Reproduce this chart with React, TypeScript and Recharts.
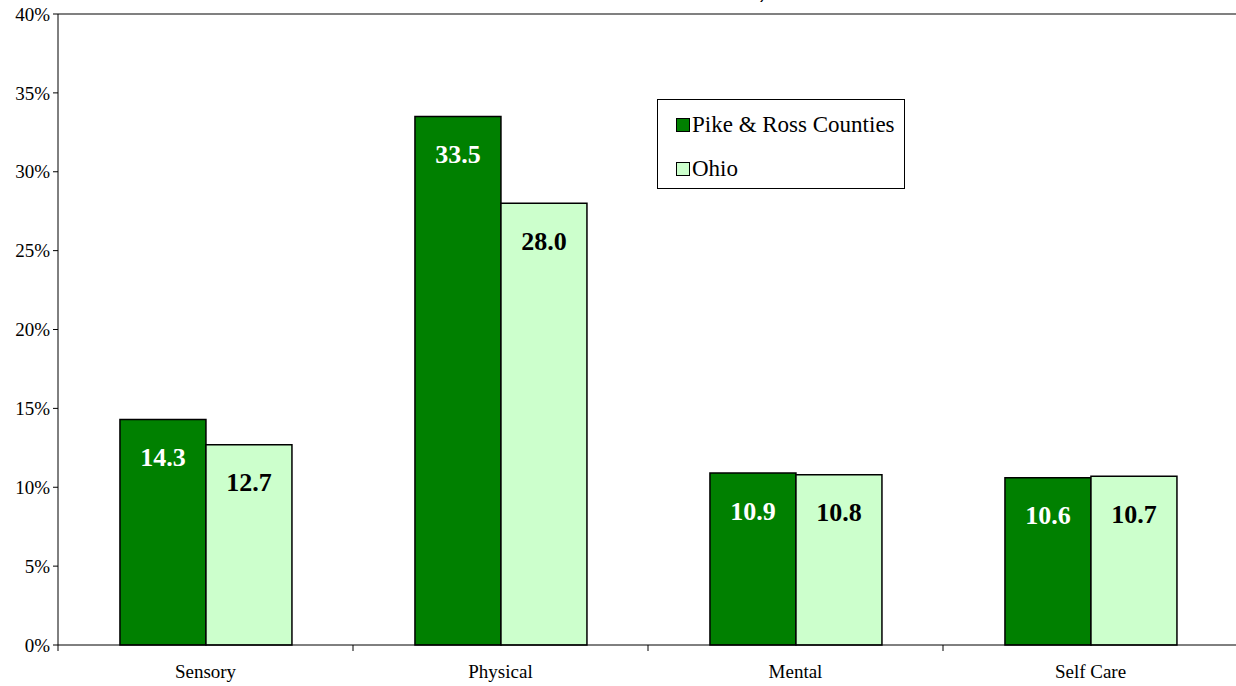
import { BarChart, Bar, XAxis, YAxis, LabelList, ReferenceLine } from 'recharts'

const categories = ['Sensory', 'Physical', 'Mental', 'Self Care']
const pikeRoss = [14.3, 33.5, 10.9, 10.6]
const ohio = [12.7, 28.0, 10.8, 10.7]
const yTicks = [0, 5, 10, 15, 20, 25, 30, 35, 40]
const seriesNames = ['Pike & Ross Counties', 'Ohio']
const titleText = 'Pike and Ross Counties and Ohio, 2000'

const DARK = '#008000'
const LIGHT = '#ccffcc'
const seriesColors = [DARK, LIGHT]
const FONT = '"Liberation Serif", "Times New Roman", serif'

const data = categories.map((name, i) => ({ name, pike: pikeRoss[i], ohio: ohio[i] }))

function CategoryTick(props: any) {
  const { x, y, payload, index, width } = props
  const band = width / categories.length
  const left = x - band / 2
  return (
    <g>
      <line x1={left} y1={y - 8} x2={left} y2={y - 2} stroke="#000" />
      {index === categories.length - 1 && (
        <line x1={left + band} y1={y - 8} x2={left + band} y2={y - 2} stroke="#000" />
      )}
      <text x={x} y={y + 25} textAnchor="middle" fontFamily={FONT} fontSize={19} fill="#000">
        {payload.value}
      </text>
    </g>
  )
}

function LegendBox() {
  return (
    <div
      style={{
        position: 'absolute',
        left: 657,
        top: 99,
        width: 248,
        height: 90,
        border: '1px solid #000',
        background: '#fff',
        boxSizing: 'border-box',
        padding: '12px 0 0 18px',
        fontFamily: FONT,
        fontSize: 23,
        color: '#000',
      }}
    >
      {seriesNames.map((name, i) => (
        <div key={name} style={{ display: 'flex', alignItems: 'center', height: 26, marginBottom: 18 }}>
          <span
            style={{
              display: 'inline-block',
              width: 12,
              height: 12,
              background: seriesColors[i],
              border: '1px solid #000',
              marginRight: 2,
            }}
          />
          {name}
        </div>
      ))}
    </div>
  )
}

export default function App() {
  return (
    <div style={{ position: 'relative', width: 1236, height: 686, overflow: 'hidden', background: '#fff' }}>
      <style>{'body{margin:0}'}</style>
      <div
        style={{
          position: 'absolute',
          top: -19,
          left: 0,
          width: 1256,
          textAlign: 'center',
          fontFamily: '"Liberation Sans", Arial, sans-serif',
          fontStyle: 'italic',
          fontWeight: 'bold',
          fontSize: 20,
          color: '#000',
        }}
      >
        {titleText}
      </div>
      <BarChart
        width={1238}
        height={686}
        data={data}
        margin={{ top: 14, right: 0, left: 0, bottom: 0 }}
        barCategoryGap="21%"
        barGap={0}
      >
        <ReferenceLine y={40} stroke="#808080" strokeWidth={2} />
        <XAxis
          dataKey="name"
          height={41}
          stroke="#000"
          tickLine={false}
          tick={<CategoryTick />}
          interval={0}
        />
        <YAxis
          width={58}
          domain={[0, 40]}
          ticks={yTicks}
          tickFormatter={(v: number) => `${v}%`}
          stroke="#000"
          tickSize={5}
          tickMargin={3}
          tick={{ fontFamily: FONT, fontSize: 19, fill: '#000' }}
          interval={0}
        />
        <Bar dataKey="pike" name={seriesNames[0]} fill={DARK} stroke="#000" strokeWidth={1.5} isAnimationActive={false}>
          <LabelList
            dataKey="pike"
            position="insideTop"
            offset={28}
            formatter={(v: any) => Number(v).toFixed(1)}
            style={{ fontFamily: FONT, fontSize: 26, fontWeight: 'bold', fill: '#fff' }}
          />
        </Bar>
        <Bar dataKey="ohio" name={seriesNames[1]} fill={LIGHT} stroke="#000" strokeWidth={1.5} isAnimationActive={false}>
          <LabelList
            dataKey="ohio"
            position="insideTop"
            offset={28}
            formatter={(v: any) => Number(v).toFixed(1)}
            style={{ fontFamily: FONT, fontSize: 26, fontWeight: 'bold', fill: '#000' }}
          />
        </Bar>
      </BarChart>
      <LegendBox />
    </div>
  )
}
